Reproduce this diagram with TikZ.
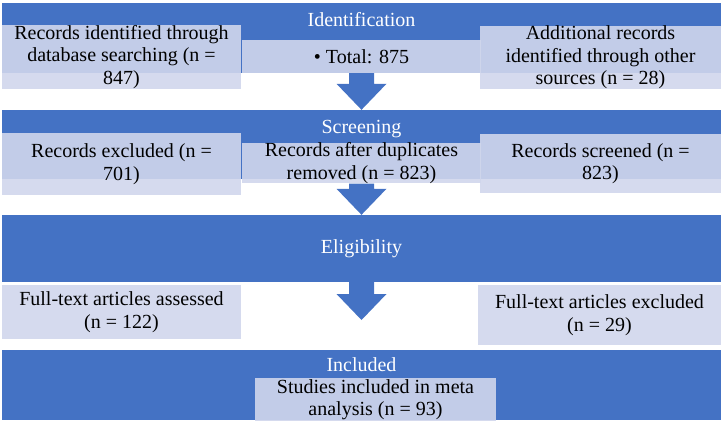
\documentclass[tikz,border=0pt]{standalone}
\usepackage{fontspec}
\setmainfont{Liberation Serif}
\usepackage{tikz}
\usetikzlibrary{positioning}
\definecolor{phaseBlue}{RGB}{68,114,196}
\definecolor{boxBlue}{RGB}{208,214,236}
\tikzstyle{phaseBand}=[fill=phaseBlue, minimum width=719pt, inner sep=0pt]
\tikzstyle{phaseLabel}=[text=white, inner sep=0pt, font=\fontsize{20}{22.5}\selectfont]
\tikzstyle{recordBox}=[fill=boxBlue, fill opacity=0.9, text opacity=1, align=center, inner sep=0pt, font=\fontsize{20}{22.5}\selectfont]
\tikzstyle{flowArrow}=[fill=phaseBlue]

\newcommand{\downArrow}[2]{%
  \fill[flowArrow] ([xshift=-12.5pt]#1) -- ([xshift=-12.5pt,yshift=26pt]#2) -- ([xshift=-25pt,yshift=26pt]#2) -- (#2)
    -- ([xshift=25pt,yshift=26pt]#2) -- ([xshift=12.5pt,yshift=26pt]#2) -- ([xshift=12.5pt]#1) -- cycle;}

\begin{document}
\begin{tikzpicture}[x=1pt, y=1pt]

    \useasboundingbox (0,0) rectangle (723,421);

    % phases

    \node[phaseBand, minimum height=70pt] (idb) at (361.5,383) {};
    \node[phaseBand, minimum height=69pt] (scr) at (361.5,276.5) {};
    \node[phaseBand, minimum height=67pt] (eli) at (361.5,172.5) {};
    \node[phaseBand, minimum height=70pt] (inc) at (361.5,36) {};

    % records

    \node[recordBox, minimum width=239pt, minimum height=64pt] (dbs) at (121.5,364) {Records identified through\\database searching (n =\\847)};
    \node[recordBox, minimum width=239pt, minimum height=33pt] (tot) at (361.5,364.5) {\textbullet\ Total: 875};
    \node[recordBox, minimum width=241pt, minimum height=55pt] (oth) at (600.5,363.5) {Additional records\\identified through other\\sources (n = 28)};

    \node[recordBox, minimum width=239pt, minimum height=62pt] (exc) at (121.5,257) {Records excluded (n =\\701)};
    \node[recordBox, minimum width=239pt, minimum height=34pt] (dup) at (361.5,258) {Records after duplicates\\removed (n = 823)};
    \node[recordBox, minimum width=241pt, minimum height=59pt] (scn) at (600.5,257.5) {Records screened (n =\\823)};

    \node[recordBox, minimum width=239pt, minimum height=54pt] (ass) at (121.5,109) {Full-text articles assessed\\(n = 122)};
    \node[recordBox, minimum width=243pt, minimum height=60pt] (exl) at (599.5,106) {Full-text articles excluded\\(n = 29)};

    \node[recordBox, minimum width=241pt, minimum height=43pt] (stu) at (375.5,21.5) {Studies included in meta\\analysis (n = 93)};

    % phase names

    \node[phaseLabel] (idtxt) at (361.5,401) {Identification};
    \node[phaseLabel] (scrtxt) at (361.5,292) {Screening};
    \node[phaseLabel] (elitxt) at (361.5,172) {Eligibility};
    \node[phaseLabel] (inctxt) at (361.5,56) {Included};

    % arrows

    \coordinate (tip3) at (361.5,101);
    \downArrow{tot.south}{scr.north}
    \downArrow{dup.south}{eli.north}
    \downArrow{eli.south}{tip3}

\end{tikzpicture}
\end{document}
